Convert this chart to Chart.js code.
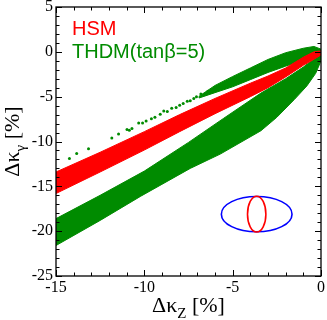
<!DOCTYPE html>
<html>
<head>
<meta charset="utf-8">
<script src="https://cdn.jsdelivr.net/npm/chart.js@4.4.0/dist/chart.umd.min.js"></script>
<style>
  html, body { margin: 0; padding: 0; background: #fff; }
</style>
</head>
<body>
<canvas id="c" width="327" height="320"></canvas>
<script>
// axis ticks
const xTicks = [-15, -10, -5, 0];
const yTicks = [-25, -20, -15, -10, -5, 0, 5];
const seriesNames = ['HSM', 'THDM(tanβ=5)'];

// HSM band outline, [Δκ_Z, Δκ_γ]
const hsmTop = [[-15.3, -13.7], [-15, -13.4], [-12.5, -11.2], [-10, -8.9], [-8, -7.0], [-6, -5.2],
  [-4, -3.5], [-3, -2.7], [-2, -1.8], [-1, -0.6], [-0.4, 0.0], [0, 0.1]];
const hsmBottom = [[0, -0.35], [-0.5, -0.95], [-1, -1.5], [-2, -2.8], [-3, -4.0], [-4, -5.0],
  [-6, -6.9], [-8, -8.9], [-10, -10.95], [-12.5, -13.4], [-15, -15.8], [-15.3, -16.0]];

// THDM upper branch (solid part) + sparse points on the left
const thdmUpperTop = [[-6.9, -4.95], [-6, -3.75], [-5, -2.75], [-4, -1.8], [-3, -0.85], [-2, -0.1],
  [-1, 0.4], [-0.4, 0.6], [0, 0.3]];
const thdmUpperBottom = [[0, -0.1], [-0.5, -0.5], [-1, -0.9], [-2, -1.6], [-3, -2.3], [-4, -3.1],
  [-5, -3.9], [-6, -4.55], [-6.9, -5.15]];
const thdmDots = [[-14.24, -11.9], [-13.83, -11.33], [-13.16, -10.8], [-11.84, -9.6], [-11.46, -9.15],
  [-10.98, -8.67], [-10.85, -8.75], [-10.7, -8.55], [-10.32, -7.93], [-10.1, -7.95], [-9.9, -7.7],
  [-9.6, -7.45], [-9.4, -7.3], [-9.1, -6.95], [-8.9, -6.6], [-8.7, -6.65], [-8.45, -6.3], [-8.2, -6.2],
  [-8.0, -5.95], [-7.8, -5.75], [-7.57, -5.5], [-7.4, -5.45], [-7.2, -5.2], [-7.05, -5.0],
  [-6.8, -4.7], [-6.6, -4.75], [-6.4, -4.4], [-6.2, -4.35]];

// THDM lower branch
const thdmLowerTop = [[-15.3, -18.9], [-15, -18.6], [-12.5, -16.0], [-10, -13.3], [-7.5, -10.1],
  [-5.5, -7.4], [-3.4, -4.6], [-2, -3.0], [-1, -1.7], [-0.4, -0.8], [0, 0]];
const thdmLowerBottom = [[0, -1.0], [-0.3, -2.4], [-0.8, -3.8], [-1.5, -5.3], [-2.5, -7.3], [-3.4, -8.8],
  [-5.7, -11.4], [-7.4, -13.0], [-10.2, -16.1], [-12.5, -18.8], [-15, -21.6], [-15.3, -21.9]];

// little inset sketch (data units)
const insetCenter = [-3.64, -18.1];
const insetBlue = [2.0, 1.97];
const insetRed = [0.52, 2.0];

const RED = '#ff0000';
const GREEN = '#008b00';

const ring = (top, bottom) => top.concat(bottom, [top[0]]).map(([x, y]) => ({ x, y }));

function band(data, color) {
  return {
    data: data,
    showLine: true,
    fill: 'shape',
    backgroundColor: color,
    borderColor: color,
    borderWidth: 1,
    pointRadius: 0,
    tension: 0
  };
}

// frame, inward ticks, texts, inset
const decor = {
  id: 'decor',
  afterDatasetsDraw(chart) {
    const { ctx, scales: { x, y } } = chart;
    const cx = x.getPixelForValue(insetCenter[0]);
    const cy = y.getPixelForValue(insetCenter[1]);
    const ell = (r, color) => {
      const rx = Math.abs(x.getPixelForValue(insetCenter[0] + r[0]) - cx);
      const ry = Math.abs(y.getPixelForValue(insetCenter[1] + r[1]) - cy);
      ctx.beginPath();
      ctx.ellipse(cx, cy, rx, ry, 0, 0, Math.PI * 2);
      ctx.strokeStyle = color;
      ctx.lineWidth = 1.6;
      ctx.stroke();
    };
    ctx.save();
    ell(insetBlue, '#0000ff');
    ell(insetRed, RED);

    ctx.font = '20px "Liberation Sans", Arial, sans-serif';
    ctx.textBaseline = 'alphabetic';
    ctx.textAlign = 'left';
    ctx.fillStyle = RED;
    ctx.fillText(seriesNames[0], 72, 34.5);
    ctx.fillStyle = GREEN;
    ctx.fillText(seriesNames[1], 72, 57.5);
    ctx.restore();
  },
  afterDraw(chart) {
    const { ctx, chartArea: a, scales: { x, y } } = chart;
    ctx.save();
    ctx.strokeStyle = '#000';
    ctx.lineWidth = 1;
    ctx.beginPath();
    for (let v = x.min; v <= x.max; v += 1) {
      const px = Math.round(x.getPixelForValue(v)) + 0.5;
      const len = v % 5 === 0 ? 6 : 3.5;
      ctx.moveTo(px, a.bottom); ctx.lineTo(px, a.bottom - len);
      ctx.moveTo(px, a.top); ctx.lineTo(px, a.top + len);
    }
    for (let v = y.min; v <= y.max; v += 1) {
      const py = Math.round(y.getPixelForValue(v)) + 0.5;
      const len = v % 5 === 0 ? 6 : 3.5;
      ctx.moveTo(a.left, py); ctx.lineTo(a.left + len, py);
      ctx.moveTo(a.right, py); ctx.lineTo(a.right - len, py);
    }
    ctx.stroke();
    ctx.lineWidth = 1.3;
    ctx.strokeRect(a.left, a.top, a.right - a.left, a.bottom - a.top);

    // axis titles with subscripts
    const serif = s => s + 'px "Liberation Serif", "Times New Roman", serif';
    const parts = sub => [
      { t: 'Δκ', f: serif(22), dy: 0 },
      { t: sub, f: serif(15), dy: 6 },
      { t: ' [%]', f: serif(22), dy: 0 }
    ];
    const drawTitle = (list, x0, y0, rot) => {
      ctx.save();
      ctx.translate(x0, y0);
      ctx.rotate(rot);
      let w = 0;
      list.forEach(p => { ctx.font = p.f; p.w = ctx.measureText(p.t).width; w += p.w; });
      let cur = -w / 2;
      ctx.fillStyle = '#000';
      ctx.textAlign = 'left';
      ctx.textBaseline = 'alphabetic';
      list.forEach(p => { ctx.font = p.f; ctx.fillText(p.t, cur, p.dy); cur += p.w; });
      ctx.restore();
    };
    drawTitle(parts('Z'), (a.left + a.right) / 2, 311.5, 0);
    drawTitle(parts('γ'), 18.5, (a.top + a.bottom) / 2, -Math.PI / 2);
    ctx.restore();
  }
};

const tickFont = { family: '"Liberation Serif", "Times New Roman", serif', size: 16 };

new Chart(document.getElementById('c'), {
  type: 'scatter',
  data: {
    datasets: [
      band(ring(hsmTop, hsmBottom), RED),
      band(ring(thdmUpperTop, thdmUpperBottom), GREEN),
      {
        data: thdmDots.map(([x, y]) => ({ x, y })),
        backgroundColor: GREEN,
        borderWidth: 0,
        pointRadius: 1.5
      },
      band(ring(thdmLowerTop, thdmLowerBottom), GREEN)
    ]
  },
  options: {
    responsive: false,
    animation: false,
    devicePixelRatio: 1,
    layout: { padding: { top: 7, right: 6, left: 0, bottom: 0 } },
    plugins: { legend: { display: false }, tooltip: { enabled: false } },
    scales: {
      x: {
        type: 'linear',
        min: -15,
        max: 0,
        grid: { display: false, drawTicks: false },
        border: { display: false },
        afterBuildTicks: s => { s.ticks = xTicks.map(v => ({ value: v })); },
        afterFit: s => { s.height = 44; s.paddingLeft = 0; s.paddingRight = 0; },
        ticks: { font: tickFont, color: '#000', padding: 2, maxRotation: 0 }
      },
      y: {
        type: 'linear',
        min: -25,
        max: 5,
        grid: { display: false, drawTicks: false },
        border: { display: false },
        afterBuildTicks: s => { s.ticks = yTicks.map(v => ({ value: v })); },
        afterFit: s => { s.width = 56; s.paddingTop = 0; s.paddingBottom = 0; },
        ticks: { font: tickFont, color: '#000', padding: 3 }
      }
    }
  },
  plugins: [decor]
});
</script>
</body>
</html>
